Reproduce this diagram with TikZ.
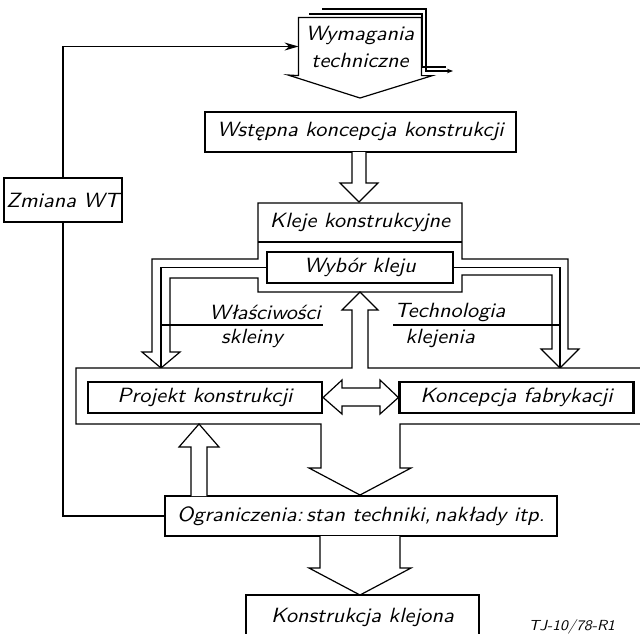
\documentclass[tikz,border=0pt]{standalone}
\usepackage{fontspec}
\setsansfont{lmsans10-regular.otf}[ItalicFont=lmsans10-oblique.otf,FakeStretch=1.08]
\usepackage{tikz}
\usetikzlibrary{arrows.meta}

% broad outline arrow: x, y start, y head base, y tip, body half width, head half width
\newcommand{\fatarrow}[6]{%
  \draw[fill=white] ({#1-#5},#2) -- ({#1-#5},#3) -- ({#1-#6},#3) -- (#1,#4)
    -- ({#1+#6},#3) -- ({#1+#5},#3) -- ({#1+#5},#2);}

\begin{document}
\begin{tikzpicture}[x=0.5pt,y=-0.5pt,line width=0.6pt,
  every node/.style={font=\fontsize{10.3}{13.5}\selectfont\sffamily\itshape},
  box/.style={draw,inner sep=0pt},
  thickbox/.style={draw,line width=1.1pt,inner sep=0pt,fill=white}]
  \useasboundingbox (0,0) rectangle (640,633);
  \clip (0,0) rectangle (640,633);

  % stacked sheets behind the requirements
  \draw (309,14) -- (422,14) -- (422,67) -- (446,67);
  \draw[-{Stealth[length=3pt]}] (322,9) -- (426,9) -- (426,71) -- (453,71);
  \node[align=center,minimum width=60pt,minimum height=28.5pt] (wym) at (360,46.5) {Wymagania\\techniczne};
  \draw[fill=white] (wym.south west) -- (wym.north west) -- (wym.north east) -- (wym.south east)
    -- ++(11,0) -- (360,98) -- ++(-72,-23) -- cycle;
  \node[align=center] at (wym) {Wymagania\\techniczne};

  \node[box,minimum width=155.5pt,minimum height=20pt] (wst) at (360.5,132) {Wstępna koncepcja konstrukcji};
  \fatarrow{359}{152}{183}{202}{7}{19}

  % adhesives frame with the two side arrows
  \draw[fill=white] (258,259) -- (258,203) -- (462,203) -- (462,259) -- (568,259) -- (568,349)
    -- (579,349) -- (560,368) -- (541,349) -- (552,349) -- (552,275) -- (462,275) -- (462,292)
    -- (258,292) -- (258,278) -- (170,278) -- (170,352) -- (180,352) -- (161,368) -- (142,352)
    -- (152,352) -- (152,259) -- cycle;
  \draw (258,242) -- (462,242);
  \node (kle) at (360,222) {Kleje konstrukcyjne};
  \node[thickbox,minimum width=93pt,minimum height=15.5pt] (wyb) at (360,267.5) {Wybór kleju};
  \draw (wyb.west) -- (161,267.5) -- (161,368);
  \draw (wyb.east) -- (560,267.5) -- (560,368);

  \draw (161,325) -- (323,325);
  \node (wla) at (265,312) {Właściwości};
  \node (skl) at (252,338) {skleiny};
  \draw (393,325) -- (560,325);
  \node (tec) at (450,312) {Technologia};
  \node (klj) at (440,338) {klejenia};

  % design / fabrication frame
  \draw[fill=white] (352,310) -- (342,310) -- (360,292) -- (378,310) -- (368,310) -- (368,368)
    -- (660,368) -- (660,424) -- (400,424) -- (400,468) -- (411,468) -- (360,495) -- (309,468)
    -- (321,468) -- (321,424) -- (76,424) -- (76,368) -- (352,368) -- cycle;
  \node[thickbox,minimum width=117pt,minimum height=15.5pt] (pro) at (205,397.5) {Projekt konstrukcji};
  \node[thickbox,minimum width=117pt,minimum height=15.5pt] (kon) at (516.5,397.5) {Koncepcja fabrykacji};
  \draw[fill=white] (pro.east) -- (342,380) -- (342,388) -- (380,388) -- (380,380) -- (kon.west)
    -- (380,414) -- (380,406) -- (342,406) -- (342,414) -- cycle;

  \node[box,fill=white,minimum width=196pt,minimum height=20pt] (ogr) at (361,516) {Ograniczenia:\,stan techniki,\,nakłady itp.};
  \fatarrow{199}{496}{447}{424}{8}{20}
  \fatarrow{360}{536}{568}{595}{40}{51}
  \node[box,minimum width=116.5pt,minimum height=22pt] (kkl) at (362.5,617) {Konstrukcja klejona};

  % change of requirements
  \node[box,minimum width=59pt,minimum height=22pt] (zm) at (63,200) {Zmiana WT};
  \draw (ogr.west) -| (zm.south);
  \draw[-{Stealth[length=7pt,width=4pt]}] (zm.north) |- (wym.west);

  \node[font=\fontsize{7.3}{9}\selectfont\sffamily\itshape] (tj) at (572,627) {TJ-10/78-R1};
\end{tikzpicture}
\end{document}
